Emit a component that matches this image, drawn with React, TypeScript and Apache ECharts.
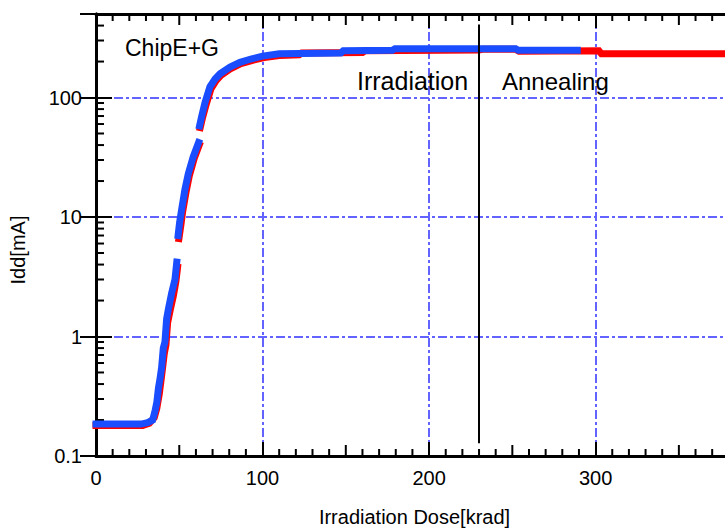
import React, { useEffect, useRef } from 'react';
import * as echarts from 'echarts';

// ---- data ----
const blueDose = [0, 27, 31, 34, 35.5, 36.5, 37.5, 38.5, 39.4, 40.4, 41.4, 42.4, 43.5, 45.4, 47.4, 48.5, 48.9,
  49.3, 50.2, 51.4, 53.4, 55.4, 58.4, 61.6, 61.9,
  62.2, 63.5, 65.4, 68.4, 71.5, 74.5, 80.5, 86.5, 93, 100, 110, 147, 148.5, 178, 179.5, 252, 253.5, 289];
const blueIdd: (number | null)[] = [0.185, 0.185, 0.19, 0.2, 0.24, 0.28, 0.37, 0.45, 0.55, 0.8, 0.9, 1.4, 1.7, 2.3, 3.0, 4.2, null,
  7.0, 9.0, 11.5, 17, 23, 32, 42, null,
  58, 70, 90, 123, 143, 158, 180, 197, 210, 222, 232, 236, 246, 249, 256, 256, 249, 249];

const redDose = [0, 28, 32, 35, 36.5, 38, 39.5, 41, 42, 43, 44.5, 46.5, 48, 49, 49.4,
  49.8, 51, 52, 54, 56, 59, 62, 62.3,
  62.6, 64, 66, 69, 72, 75, 81, 87, 94, 101, 110, 122, 123.5, 160, 161.5, 230, 232, 252, 254, 302, 303.5, 380];
const redIdd: (number | null)[] = [0.18, 0.18, 0.188, 0.21, 0.25, 0.33, 0.48, 0.72, 0.85, 1.3, 1.65, 2.2, 2.9, 3.8, null,
  6.6, 8.6, 11, 16, 22, 31, 40, null,
  56, 68, 86, 118, 138, 153, 175, 192, 205, 216, 225, 228, 236, 238, 246, 250, 253, 253, 244, 246, 232, 232];

const xMajorInterval = 100;
const xMidTicks = [50, 150, 250, 350];
const xMinorTicks = [10, 20, 30, 40, 60, 70, 80, 90, 110, 120, 130, 140, 160, 170, 180, 190,
  210, 220, 230, 240, 260, 270, 280, 290, 310, 320, 330, 340, 360, 370];
const yMinorTicks = [0.2, 0.3, 0.4, 0.5, 0.6, 0.7, 0.8, 0.9, 2, 3, 4, 5, 6, 7, 8, 9,
  20, 30, 40, 50, 60, 70, 80, 90, 200, 300, 400];

const xMin = 0;
const xMax = 382.5;
const yMin = 0.1;
const yMax = 500;
const phaseBoundary = 230;
const boundaryLow = 0.128;
const boundaryHigh = 408;

const GRID = { left: 96, top: 14, width: 637, height: 442 };
const FONT = '"Liberation Sans", Helvetica, Arial, sans-serif';
const gridDash = [9, 3, 3, 3];
const gridColor = '#6363ff';
const TICK_COLOR = '#000';

export default function App() {
  const ref = useRef<HTMLDivElement>(null);
  useEffect(() => {
    if (!ref.current) return;
    const chart = echarts.init(ref.current, undefined, { renderer: 'svg' });

    const pair = (xs: number[], ys: (number | null)[]) => xs.map((x, i) => [x, ys[i] == null ? '-' : ys[i]]);
    const axisLine = { show: true, lineStyle: { color: '#000', width: 3 } };
    const tickStyle = { color: '#000', width: 2 };

    const tickMarks = (data: number[][], size: number[], offset: number[]) => ({
      type: 'scatter', clip: false, silent: true,
      xAxisIndex: 0, yAxisIndex: 0,
      symbol: 'rect', symbolSize: size, symbolOffset: offset,
      itemStyle: { color: TICK_COLOR, opacity: 1 },
      data,
    });

    chart.setOption({
      animation: false,
      backgroundColor: '#fff',
      grid: { ...GRID, containLabel: false, outerBoundsMode: 'none' },
      xAxis: [
        {
          type: 'value', position: 'bottom', min: xMin, max: xMax, interval: xMajorInterval,
          axisLine,
          axisTick: { show: true, inside: true, length: 14, lineStyle: tickStyle },
          axisLabel: {
            color: '#000', fontSize: 20, fontFamily: FONT, margin: 12, showMaxLabel: false,
            formatter: (v: number) => (v % 100 === 0 ? String(v) : ''),
          },
          splitLine: { show: true, lineStyle: { color: gridColor, width: 2, type: gridDash } },
          name: 'Irradiation Dose[krad]', nameLocation: 'middle', nameGap: 51,
          nameTextStyle: { color: '#000', fontSize: 20, fontFamily: FONT },
        },
        {
          type: 'value', position: 'top', min: xMin, max: xMax, interval: xMajorInterval,
          axisLine,
          axisTick: { show: true, inside: true, length: 14, lineStyle: tickStyle },
          axisLabel: { show: false },
          splitLine: { show: false },
        },
      ],
      yAxis: [
        {
          type: 'log', position: 'left', min: yMin, max: yMax, logBase: 10,
          axisLine,
          axisTick: { show: true, inside: true, length: 16, lineStyle: tickStyle },
          axisLabel: { color: '#000', fontSize: 20, fontFamily: FONT, margin: 14, showMaxLabel: false },
          splitLine: { show: true, lineStyle: { color: gridColor, width: 2, type: gridDash } },
        },
        {
          type: 'log', position: 'right', min: yMin, max: yMax, logBase: 10,
          axisLine,
          axisTick: { show: true, inside: true, length: 16, lineStyle: tickStyle },
          axisLabel: { show: false },
          splitLine: { show: false },
        },
      ],
      series: [
        {
          name: 'red', type: 'line', xAxisIndex: 0, yAxisIndex: 0,
          data: pair(redDose, redIdd), showSymbol: false, connectNulls: false,
          lineStyle: { color: '#ff0000', width: 7, cap: 'square', join: 'miter' }, z: 3,
        },
        {
          name: 'blue', type: 'line', xAxisIndex: 0, yAxisIndex: 0,
          data: pair(blueDose, blueIdd), showSymbol: false, connectNulls: false,
          lineStyle: { color: '#1a4dff', width: 7, cap: 'square', join: 'miter' }, z: 4,
          markLine: {
            silent: true, symbol: 'none', label: { show: false },
            lineStyle: { color: '#000', width: 2, type: 'solid' },
            data: [[{ coord: [phaseBoundary, boundaryLow] }, { coord: [phaseBoundary, boundaryHigh] }]],
          },
        },
        tickMarks(xMinorTicks.map((t) => [t, yMin]), [2, 7], [0, -3.5]),
        tickMarks(xMinorTicks.map((t) => [t, yMax]), [2, 7], [0, 3.5]),
        tickMarks(xMidTicks.map((t) => [t, yMin]), [2, 11], [0, -5.5]),
        tickMarks(xMidTicks.map((t) => [t, yMax]), [2, 11], [0, 5.5]),
        tickMarks(yMinorTicks.map((v) => [xMin, v]), [8, 2], [4, 0]),
        tickMarks(yMinorTicks.map((v) => [xMax, v]), [7, 2], [-3.5, 0]),
      ],
      graphic: [
        { type: 'text', left: 125, top: 36, z: 20, style: { text: 'ChipE+G', fontSize: 23, fontFamily: FONT, fill: '#000' } },
        { type: 'text', left: 357, top: 68, z: 20, style: { text: 'Irradiation', fontSize: 25, fontFamily: FONT, fill: '#000' } },
        { type: 'text', left: 502, top: 69, z: 20, style: { text: 'Annealing', fontSize: 24, fontFamily: FONT, fill: '#000' } },
        {
          type: 'text', x: 18, y: 250, rotation: Math.PI / 2, z: 20,
          style: { text: 'Idd[mA]', fontSize: 20, fontFamily: FONT, fill: '#000', align: 'center', verticalAlign: 'middle' },
        },
      ],
    });

    return () => chart.dispose();
  }, []);
  return <div ref={ref} style={{ width: 725, height: 531, position: 'absolute', left: 0, top: 0 }} />;
}
